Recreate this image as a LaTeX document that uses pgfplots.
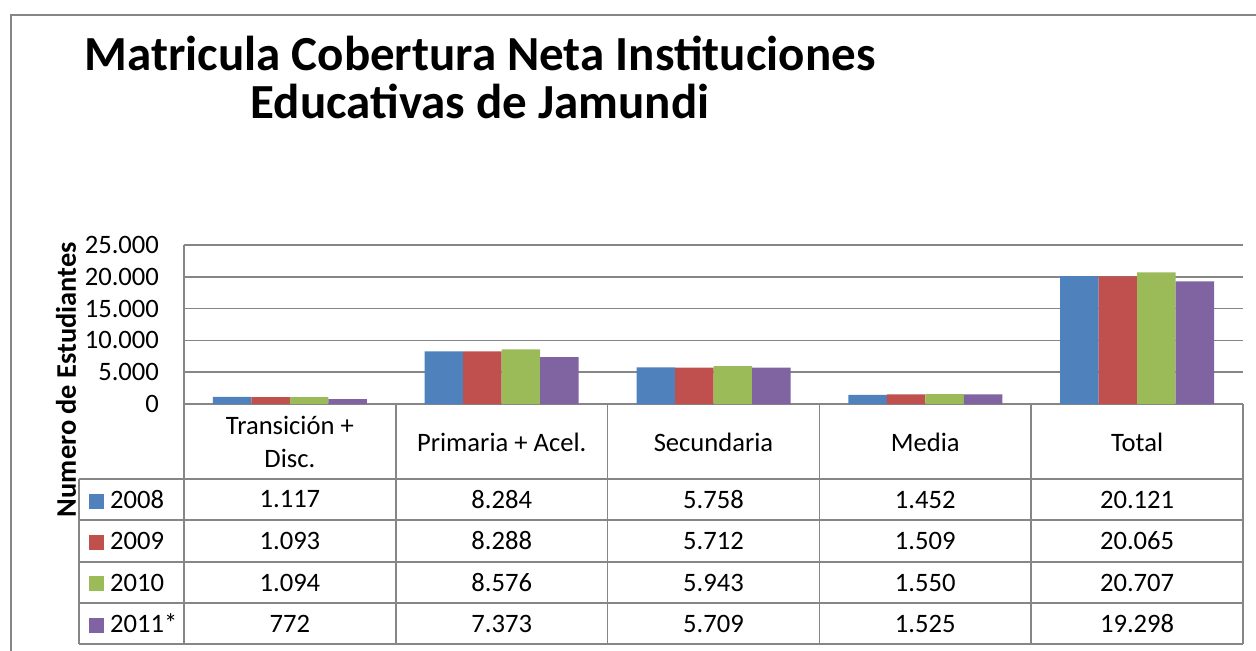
\documentclass[border=0pt]{standalone}
\usepackage{fontspec}
\setmainfont{Carlito}
\usepackage{pgfplots}
\usepackage{pgfplotstable}
\pgfplotsset{compat=1.18}
\pgfplotsset{/pgf/number format/assume math mode=true}

\definecolor{c2008}{HTML}{4F81BD}
\definecolor{c2009}{HTML}{C0504D}
\definecolor{c2010}{HTML}{9BBB59}
\definecolor{c2011}{HTML}{8064A2}
\definecolor{gridgray}{HTML}{868686}

% matricula por nivel y año
\pgfplotstableread{
x y2008 y2009 y2010 y2011
0 1117 1093 1094 772
1 8284 8288 8576 7373
2 5758 5712 5943 5709
3 1452 1509 1550 1525
4 20121 20065 20707 19298
}\datatable

\newcommand{\legsq}[1]{{\color{#1}\rule{7.5pt}{7.5pt}}\hspace{3pt}}
\newcommand{\lbl}{\fontsize{13.3}{16.5}\selectfont}

\begin{document}
\begin{tikzpicture}
\useasboundingbox (0,0) rectangle (628pt,325pt);
\clip (0,0) rectangle (628pt,325pt);
\draw[gridgray, line width=0.75pt] (5.5pt,-10pt) -- (5.5pt,317.5pt) -- (700pt,317.5pt);

\node[align=center, font=\fontsize{24.5}{24}\selectfont\bfseries] at (240pt,286.5pt)
  {Matricula Cobertura Neta Instituciones\\Educativas de Jamundi};
\node[rotate=90, font=\fontsize{14.2}{16}\selectfont\bfseries] at (33pt,135.25pt) {Numero de Estudiantes};

\begin{axis}[
  at={(92pt,123pt)}, anchor=south west,
  width=529.5pt, height=79.5pt, scale only axis,
  xmin=-0.5, xmax=4.5, ymin=0, ymax=25000,
  ybar, bar width=19.25pt,
  axis x line*=bottom, axis y line*=left,
  axis line style={draw=gridgray, line width=0.75pt},
  xtick={0,1,2,3,4},
  xticklabels={{Transición +\\Disc.},{Primaria + Acel.},Secundaria,Media,Total},
  xtick style={draw=none},
  xticklabel style={anchor=center, yshift=-14.75pt, align=center, font=\lbl},
  ytick={0,5000,10000,15000,20000,25000},
  ytick style={draw=none},
  scaled y ticks=false,
  yticklabel={\pgfmathprintnumber[fixed,precision=0,1000 sep={.}]{\tick}},
  yticklabel style={font=\lbl, xshift=-9pt},
  ymajorgrids, grid style={draw=gridgray, line width=0.75pt},
  clip=false,
]
\addplot[fill=c2008, draw=none, bar shift=-28.875pt] table[x=x,y=y2008]{\datatable};
\addplot[fill=c2009, draw=none, bar shift=-9.625pt] table[x=x,y=y2009]{\datatable};
\addplot[fill=c2010, draw=none, bar shift=9.625pt] table[x=x,y=y2010]{\datatable};
\addplot[fill=c2011, draw=none, bar shift=28.875pt] table[x=x,y=y2011]{\datatable};
\end{axis}

\begin{axis}[
  at={(92pt,3pt)}, anchor=south west,
  width=529.5pt, height=120pt, scale only axis,
  xmin=-0.5, xmax=4.5, ymin=404, ymax=644, y dir=reverse,
  hide axis, clip=false,
  nodes near coords={\pgfmathprintnumber[fixed,precision=0,1000 sep={.}]{\pgfplotspointmeta}},
  nodes near coords style={anchor=center, font=\lbl, text=black},
  point meta=explicit,
]
\draw[gridgray, line width=0.75pt]
  (axis cs:-0.995,479) -- (axis cs:4.5,479)
  (axis cs:-0.995,520) -- (axis cs:4.5,520)
  (axis cs:-0.995,562) -- (axis cs:4.5,562)
  (axis cs:-0.995,603) -- (axis cs:4.5,603)
  (axis cs:-0.995,644) -- (axis cs:4.5,644)
  (axis cs:-0.995,479) -- (axis cs:-0.995,644)
  (axis cs:-0.5,404) -- (axis cs:-0.5,644)
  (axis cs:0.5,404) -- (axis cs:0.5,644)
  (axis cs:1.5,404) -- (axis cs:1.5,644)
  (axis cs:2.5,404) -- (axis cs:2.5,644)
  (axis cs:3.5,404) -- (axis cs:3.5,644)
  (axis cs:4.5,404) -- (axis cs:4.5,644);
\node[anchor=west, font=\lbl, inner sep=0pt] at (axis cs:-0.95,499.5) {\legsq{c2008}2008};
\node[anchor=west, font=\lbl, inner sep=0pt] at (axis cs:-0.95,541) {\legsq{c2009}2009};
\node[anchor=west, font=\lbl, inner sep=0pt] at (axis cs:-0.95,582.5) {\legsq{c2010}2010};
\node[anchor=west, font=\lbl, inner sep=0pt] at (axis cs:-0.95,623.5) {\legsq{c2011}2011*};
\addplot[draw=none, mark=none] table[x=x, y expr=499.5, meta=y2008]{\datatable};
\addplot[draw=none, mark=none] table[x=x, y expr=541, meta=y2009]{\datatable};
\addplot[draw=none, mark=none] table[x=x, y expr=582.5, meta=y2010]{\datatable};
\addplot[draw=none, mark=none] table[x=x, y expr=623.5, meta=y2011]{\datatable};
\end{axis}
\end{tikzpicture}
\end{document}
